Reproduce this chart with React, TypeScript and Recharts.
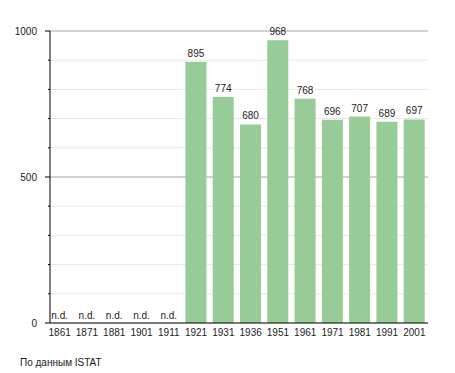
import { BarChart, Bar, XAxis, YAxis, CartesianGrid, LabelList } from 'recharts'

const years = ['1861', '1871', '1881', '1901', '1911', '1921', '1931', '1936', '1951', '1961', '1971', '1981', '1991', '2001']
const population: (number | null)[] = [null, null, null, null, null, 895, 774, 680, 968, 768, 696, 707, 689, 697]
const yTicks = [0, 100, 200, 300, 400, 500, 600, 700, 800, 900, 1000]
const majorTicks = [0, 500, 1000]

const data = years.map((year, i) => ({ year, value: population[i] }))

const FONT = 'Liberation Sans, Arial, sans-serif'
const TEXT = '#222'

function YTick(props: any) {
  const { x, y, payload } = props
  const major = majorTicks.includes(payload.value)
  return (
    <g>
      <line x1={x - (major ? 5 : 2)} x2={x} y1={y} y2={y} stroke="#000" strokeWidth={1} />
      {major && (
        <text x={x - 13} y={y + 3.5} textAnchor="end" fontSize={10} fontFamily={FONT} fill={TEXT}>
          {payload.value}
        </text>
      )}
    </g>
  )
}

function XTick(props: any) {
  const { x, y, payload, index } = props
  const missing = population[index] == null
  return (
    <g>
      {missing && (
        <text x={x} y={y - 4.5} textAnchor="middle" fontSize={10} fontFamily={FONT} fill={TEXT}>
          n.d.
        </text>
      )}
      <text x={x} y={y + 12.5} textAnchor="middle" fontSize={10} fontFamily={FONT} fill={TEXT}>
        {payload.value}
      </text>
    </g>
  )
}

function ValueLabel(props: any) {
  const { x, y, width, value } = props
  if (value == null) return null
  return (
    <text x={x + width / 2} y={y - 5} textAnchor="middle" fontSize={10} fontFamily={FONT} fill={TEXT}>
      {value}
    </text>
  )
}

export default function App() {
  return (
    <div style={{ position: 'absolute', left: 0, top: 0, width: 455, height: 373, background: '#fff' }}>
      <BarChart width={455} height={373} data={data} margin={{ top: 31, right: 27, bottom: 20, left: 0 }}>
        <CartesianGrid vertical={false} stroke="#e8e8e8" horizontalValues={yTicks} />
        <CartesianGrid vertical={false} stroke="#b0b0b0" horizontalValues={[500, 1000]} />
        <XAxis
          dataKey="year"
          height={30}
          tick={<XTick />}
          tickLine={false}
          tickSize={0}
          tickMargin={0}
          axisLine={{ stroke: '#000' }}
          padding={{ left: -4, right: 0 }}
          interval={0}
        />
        <YAxis
          width={50}
          domain={[0, 1000]}
          ticks={yTicks}
          tick={<YTick />}
          tickLine={false}
          tickSize={0}
          tickMargin={0}
          axisLine={{ stroke: '#000' }}
          interval={0}
        />
        <Bar dataKey="value" fill="#97cb97" barSize={21} isAnimationActive={false}>
          <LabelList dataKey="value" content={<ValueLabel />} />
        </Bar>
      </BarChart>
      <div
        style={{
          position: 'absolute',
          left: 20,
          top: 357,
          fontSize: 10,
          lineHeight: '12px',
          fontFamily: FONT,
          color: TEXT,
        }}
      >
        По данным ISTAT
      </div>
    </div>
  )
}
